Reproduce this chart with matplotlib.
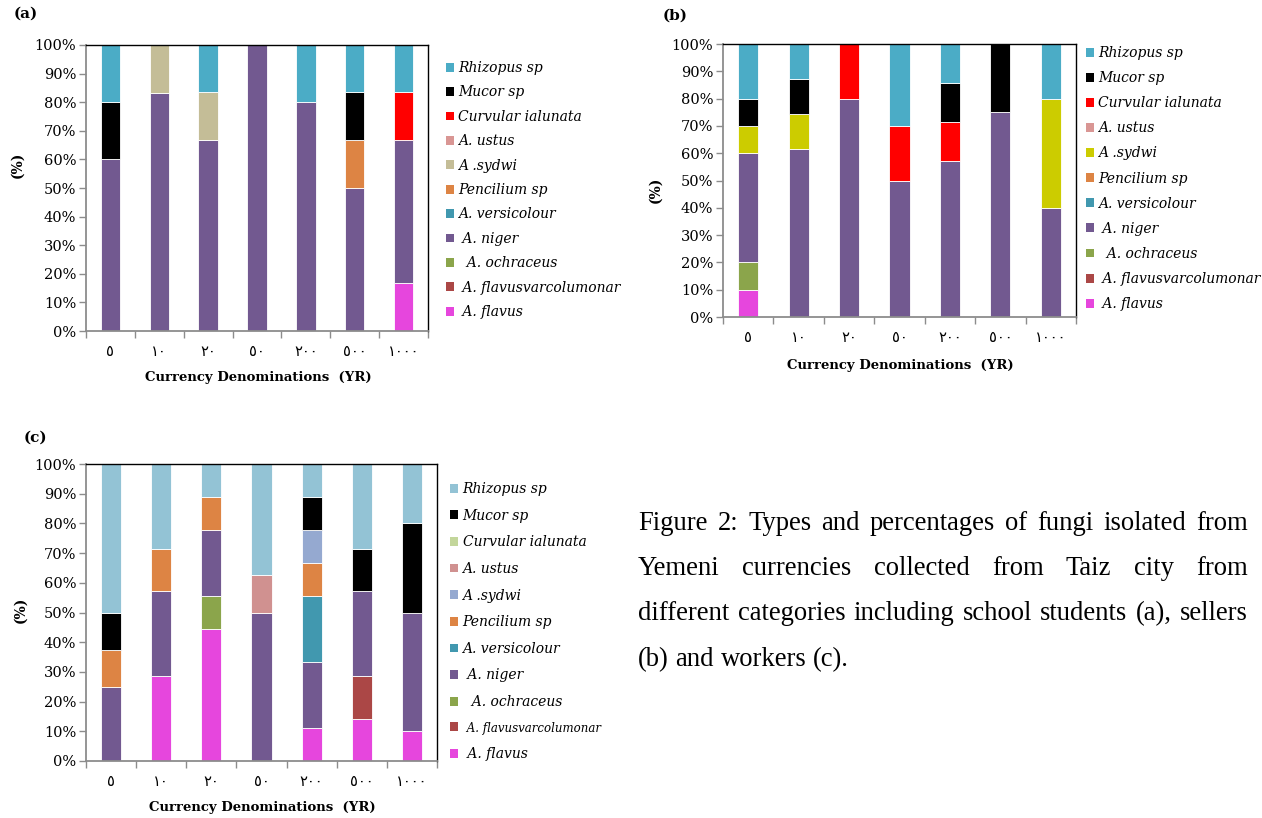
import matplotlib
matplotlib.use("Agg")
import matplotlib.pyplot as plt
from matplotlib.patches import Patch
from matplotlib.ticker import FixedLocator, NullFormatter, FixedFormatter
import numpy as np

W, H = 1262, 818

denominations = ["٥", "١٠", "٢٠", "٥٠", "٢٠٠", "٥٠٠", "١٠٠٠"]

# stacking order, bottom to top
species = ["A. flavus", "A. flavusvarcolumonar", "A. ochraceus", "A. niger",
           "A. versicolour", "Pencilium sp", "A .sydwi", "A. ustus",
           "Curvular ialunata", "Mucor sp", "Rhizopus sp"]
legend_labels = [" A. flavus", " A. flavusvarcolumonar", "  A. ochraceus", " A. niger",
                 "A. versicolour", "Pencilium sp", "A .sydwi", "A. ustus",
                 "Curvular ialunata", "Mucor sp", "Rhizopus sp"]

# (a) school students, % per denomination, one row per species
students = [
    [0, 0, 0, 0, 0, 0, 16.7],
    [0, 0, 0, 0, 0, 0, 0],
    [0, 0, 0, 0, 0, 0, 0],
    [60, 83.3, 66.7, 100, 80, 50, 50],
    [0, 0, 0, 0, 0, 0, 0],
    [0, 0, 0, 0, 0, 16.7, 0],
    [0, 16.7, 16.7, 0, 0, 0, 0],
    [0, 0, 0, 0, 0, 0, 0],
    [0, 0, 0, 0, 0, 0, 16.7],
    [20, 0, 0, 0, 0, 16.7, 0],
    [20, 0, 16.6, 0, 20, 16.6, 16.6],
]

# (b) sellers
sellers = [
    [10, 0, 0, 0, 0, 0, 0],
    [0, 0, 0, 0, 0, 0, 0],
    [10, 0, 0, 0, 0, 0, 0],
    [40, 61.5, 80, 50, 57.1, 75, 40],
    [0, 0, 0, 0, 0, 0, 0],
    [0, 0, 0, 0, 0, 0, 0],
    [10, 12.9, 0, 0, 0, 0, 40],
    [0, 0, 0, 0, 0, 0, 0],
    [0, 0, 20, 20, 14.3, 0, 0],
    [10, 12.6, 0, 0, 14.3, 25, 0],
    [20, 13, 0, 30, 14.3, 0, 20],
]

# (c) workers
workers = [
    [0, 28.6, 44.4, 0, 11.1, 14.3, 10],
    [0, 0, 0, 0, 0, 14.3, 0],
    [0, 0, 11.1, 0, 0, 0, 0],
    [25, 28.6, 22.2, 50, 22.2, 28.6, 40],
    [0, 0, 0, 0, 22.2, 0, 0],
    [12.5, 14.3, 11.1, 0, 11.1, 0, 0],
    [0, 0, 0, 0, 11.1, 0, 0],
    [0, 0, 0, 12.5, 0, 0, 0],
    [0, 0, 0, 0, 0, 0, 0],
    [12.5, 0, 0, 0, 11.1, 14.3, 30],
    [50, 28.5, 11.2, 37.5, 11.2, 28.5, 20],
]

colors_a = ["#E646DD", "#AB4746", "#8BA54B", "#725990", "#4198AF", "#DD8444",
            "#C4BD97", "#D99694", "#FF0000", "#000000", "#4BACC6"]
colors_b = ["#E646DD", "#AB4746", "#8BA54B", "#725990", "#4198AF", "#DD8444",
            "#CCCC00", "#D99694", "#FF0000", "#000000", "#4BACC6"]
colors_c = ["#E646DD", "#AB4746", "#8BA54B", "#725990", "#4198AF", "#DD8444",
            "#95A9D0", "#D09190", "#C3D69B", "#000000", "#93C3D5"]

SERIF = ["DejaVu Serif"]


def box(l, t, r, b):
    # pixel box -> figure fraction [left, bottom, width, height]
    return [l / W, 1 - b / H, (r - l) / W, (b - t) / H]


def fx(x):
    return x / W


def fy(y):
    return 1 - y / H


fig = plt.figure(figsize=(W / 100, H / 100), dpi=100)


def stacked_panel(rect, data, colors, tag, tag_xy, ylab_xy, xlab_xy, leg_xy, leg_space):
    ax = fig.add_axes(rect)
    x = np.arange(len(denominations))
    bottom = np.zeros(len(denominations))
    for row, col in zip(data, colors):
        vals = np.array(row, dtype=float)
        ax.bar(x, vals, 0.4, bottom=bottom, color=col, edgecolor="white", linewidth=0.6)
        bottom += vals

    ax.set_xlim(-0.5, len(denominations) - 0.5)
    ax.set_ylim(0, 100)
    ax.set_yticks(np.arange(0, 101, 10))
    ax.set_yticklabels([f"{v}%" for v in range(0, 101, 10)], fontfamily=SERIF, fontsize=10.5)

    # category boundaries as ticks, names centred between them
    ax.xaxis.set_major_locator(FixedLocator(np.arange(-0.5, len(denominations), 1.0)))
    ax.xaxis.set_major_formatter(NullFormatter())
    ax.xaxis.set_minor_locator(FixedLocator(x))
    ax.xaxis.set_minor_formatter(FixedFormatter(denominations))
    ax.tick_params(axis="x", which="minor", length=0, pad=9, labelsize=10.5)
    for lbl in ax.get_xticklabels(minor=True):
        lbl.set_fontfamily(["DejaVu Sans"])
    ax.tick_params(axis="x", which="major", length=5, width=1, color="#8C8C8C", direction="out")
    ax.tick_params(axis="y", length=5, width=1, color="#8C8C8C", direction="out", pad=2)

    for side in ("left", "bottom"):
        ax.spines[side].set_color("#8C8C8C")
        ax.spines[side].set_linewidth(1.3)
    for side in ("top", "right"):
        ax.spines[side].set_color("black")
        ax.spines[side].set_linewidth(1.0)

    fig.text(fx(tag_xy[0]), fy(tag_xy[1]), tag, fontfamily=SERIF, fontweight="bold",
             fontsize=11, ha="left", va="center")
    fig.text(fx(ylab_xy[0]), fy(ylab_xy[1]), "(%)", fontfamily=SERIF, fontweight="bold",
             fontsize=10, rotation=90, ha="center", va="center")
    fig.text(fx(xlab_xy[0]), fy(xlab_xy[1]), "Currency Denominations  (YR)", fontfamily=SERIF,
             fontweight="bold", fontsize=9.5, ha="center", va="center")

    handles = [Patch(facecolor=c, edgecolor="none") for c in colors][::-1]
    leg = fig.legend(handles, legend_labels[::-1], loc="upper left",
                     bbox_to_anchor=(fx(leg_xy[0]), fy(leg_xy[1])),
                     frameon=False, borderpad=0, borderaxespad=0,
                     handlelength=0.6, handleheight=0.6, handletextpad=0.3,
                     labelspacing=leg_space,
                     prop={"family": SERIF, "style": "italic", "size": 10})
    return ax, leg


stacked_panel(box(86, 45, 428, 331), students, colors_a, "(a)", (14, 14), (17, 165),
              (258, 378), (446, 61), 0.75)
stacked_panel(box(723, 44, 1076, 317), sellers, colors_b, "(b)", (663, 16), (655, 190),
              (900, 365), (1086, 46), 0.80)
ax_c, leg_c = stacked_panel(box(86, 464, 437, 761), workers, colors_c, "(c)", (24, 438),
                            (20, 610), (262, 808), (450, 482), 0.91)
for txt in leg_c.get_texts():
    if "flavusvar" in txt.get_text():
        txt.set_fontsize(8.5)

# justified caption on the right of panel (c)
caption_lines = [
    "Figure 2: Types and percentages of fungi isolated from",
    "Yemeni currencies collected from Taiz city from",
    "different categories including school students (a), sellers",
    "(b) and workers (c).",
]
cap_left, cap_right = 638, 1248
cap_base = [530, 575, 620.5, 666]
renderer = fig.canvas.get_renderer()
for i, (line, yb) in enumerate(zip(caption_lines, cap_base)):
    words = line.split()
    items = [fig.text(0, fy(yb), w, fontfamily=["Liberation Serif"], fontsize=19.2,
                      ha="left", va="baseline") for w in words]
    widths = [t.get_window_extent(renderer).width for t in items]
    if i < len(caption_lines) - 1:
        gap = (cap_right - cap_left - sum(widths)) / (len(words) - 1)
    else:
        gap = items[0].get_fontsize() * 0.25 * 100 / 72
    xpos = cap_left
    for t, w in zip(items, widths):
        t.set_x(fx(xpos))
        xpos += w + gap

fig.savefig("out.png", dpi=100)
